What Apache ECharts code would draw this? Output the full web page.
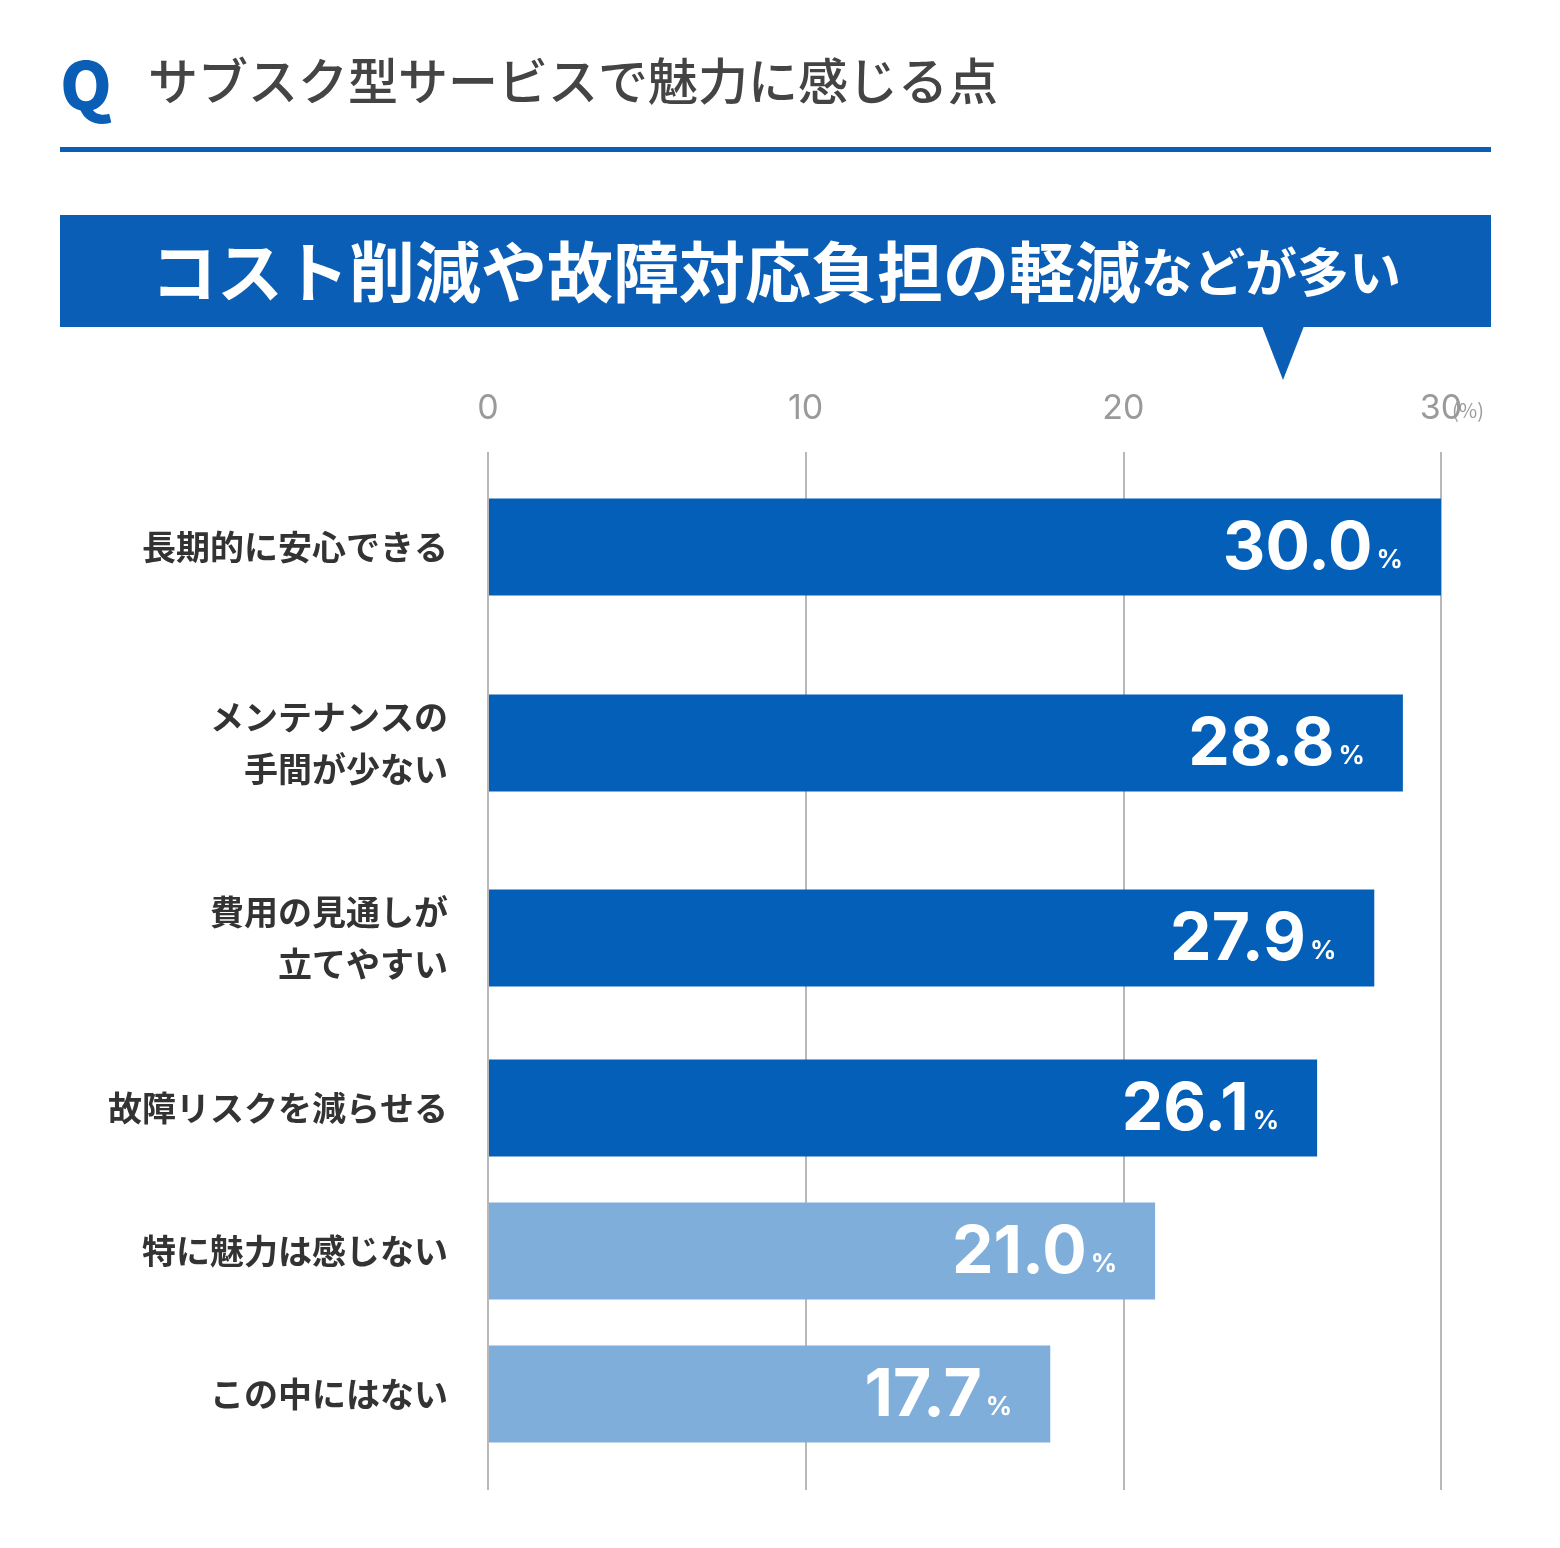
<!DOCTYPE html>
<html><head><meta charset="utf-8">
<script src="https://cdn.jsdelivr.net/npm/echarts@6/dist/echarts.min.js"></script>
<style>html,body{margin:0;background:#fff}#chart{width:1560px;height:1548px}</style>
</head><body><div id="chart"></div>
<script>
'use strict';
var categories = ['長期的に安心できる', 'メンテナンスの\n手間が少ない', '費用の見通しが\n立てやすい', '故障リスクを減らせる', '特に魅力は感じない', 'この中にはない'];
var values = [30.0, 28.8, 27.9, 26.1, 21.0, 17.7];
var highlight = [true, true, true, true, false, false];
// row centre offsets below the plot top (the source spaces rows unevenly)
var rowPos = [95, 291, 486, 656, 799, 942];

var FONT = '"Noto Sans CJK JP", "Noto Sans", sans-serif';
var myChart = echarts.init(document.getElementById('chart'));

var option = {
    animation: false,
    grid: {left: 488, right: 119, top: 452, bottom: 58},
    xAxis: {
        type: 'value', position: 'top', min: 0, max: 30, interval: 10,
        axisLine: {show: false}, axisTick: {show: false},
        axisLabel: {margin: 26, color: '#9a9a9a', fontSize: 34, fontFamily: 'Inter, sans-serif'},
        splitLine: {lineStyle: {color: '#b8b8b8', width: 2}}
    },
    yAxis: {type: 'value', min: 0, max: 1038, inverse: true, show: false},
    graphic: [
        {type: 'text', left: 60, top: 52, style: {text: 'Q', font: '900 66px ' + FONT, fill: '#0b5eb5'}},
        {type: 'text', left: 148, top: 56, style: {text: 'サブスク型サービスで魅力に感じる点', font: '500 50px ' + FONT, fill: '#444'}},
        {type: 'rect', shape: {x: 60, y: 147, width: 1431, height: 5}, style: {fill: '#0b5eb5'}},
        {type: 'rect', shape: {x: 60, y: 215, width: 1431, height: 112}, style: {fill: '#0b5eb5'}},
        {type: 'polygon', shape: {points: [[1262, 326], [1304, 326], [1283, 380]]}, style: {fill: '#0b5eb5'}},
        {type: 'text', x: 776, y: 272, style: {
            text: '{a|コスト削減や故障対応負担の軽減}{b|などが多い}',
            align: 'center', verticalAlign: 'middle',
            rich: {
                a: {font: 'bold 66px ' + FONT, fill: '#fff'},
                b: {font: 'bold 52px ' + FONT, fill: '#fff'}
            }
        }},
        {type: 'text', x: 1452, y: 410, style: {text: '(%)', font: '20px ' + FONT, fill: '#9a9a9a', verticalAlign: 'middle'}}
    ],
    series: [{
        type: 'custom',
        data: values.map(function (v, i) { return [v, rowPos[i], i]; }),
        renderItem: function (params, api) {
            var i = api.value(2);
            var end = api.coord([api.value(0), api.value(1)]);
            var start = api.coord([0, api.value(1)]);
            var h = 97;
            return {
                type: 'group',
                children: [
                    {type: 'rect', shape: {x: start[0] + 1, y: end[1] - h / 2, width: end[0] - start[0] - 1, height: h},
                        style: {fill: highlight[i] ? '#045fb8' : '#80aedb'}},
                    {type: 'text', x: end[0] - 38, y: end[1] + 2, style: {
                        text: '{v|' + values[i].toFixed(1) + '}{p|%}',
                        align: 'right', verticalAlign: 'middle',
                        rich: {
                            v: {font: 'bold 66px Inter, sans-serif', fill: '#fff'},
                            p: {font: 'bold 26px Inter, sans-serif', fill: '#fff', padding: [22, 0, 0, 4]}
                        }
                    }},
                    {type: 'text', x: 448, y: end[1], style: {
                        text: categories[i], align: 'right', verticalAlign: 'middle',
                        font: 'bold 34px ' + FONT, fill: '#333', lineHeight: 52
                    }}
                ]
            };
        }
    }]
};
myChart.setOption(option);
window.onresize = function () { myChart.resize(); };
</script></body></html>
